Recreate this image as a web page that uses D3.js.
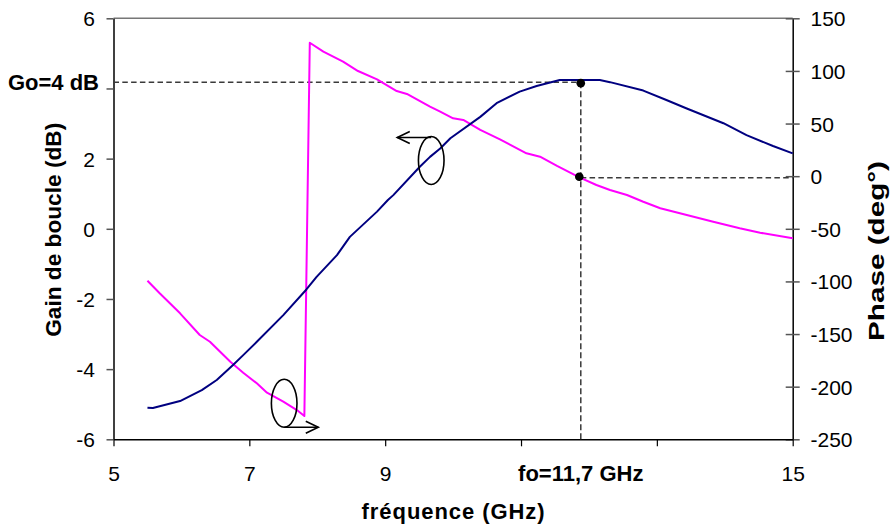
<!DOCTYPE html>
<html>
<head>
<meta charset="utf-8">
<script src="https://cdn.jsdelivr.net/npm/d3@7"></script>
<style>
  html, body { margin: 0; padding: 0; background: #fff; }
  svg { display: block; }
  text { font-family: "Liberation Sans", Arial, sans-serif; fill: #000; }
</style>
</head>
<body>
<svg id="chart" width="891" height="528"></svg>
<script>
// ---------- DATA ----------
const gainFreq = [5.50, 5.58, 5.98, 6.30, 6.52, 6.76, 6.91, 7.11, 7.50, 7.84, 7.99, 8.29, 8.48, 8.88, 9.04, 9.12, 9.51, 9.66, 9.81, 9.96, 10.40, 10.64, 10.98, 11.23, 11.57, 12.16, 12.31, 12.80, 13.14, 13.44, 13.98, 14.32, 14.71, 15.00];
const gainDb   = [-5.10, -5.11, -4.91, -4.60, -4.31, -3.88, -3.60, -3.22, -2.46, -1.73, -1.37, -0.75, -0.23, 0.49, 0.82, 0.96, 1.77, 2.05, 2.29, 2.58, 3.19, 3.58, 3.91, 4.07, 4.24, 4.24, 4.18, 3.94, 3.67, 3.43, 3.01, 2.67, 2.36, 2.15];

const phaseFreq = [5.50, 5.68, 5.98, 6.27, 6.42, 6.72, 6.91, 7.11, 7.26, 7.50, 7.70, 7.81, 7.89, 8.09, 8.38, 8.60, 8.88, 9.17, 9.32, 9.66, 9.81, 10.00, 10.15, 10.40, 10.69, 11.08, 11.28, 11.53, 11.86, 12.11, 12.31, 12.56, 12.80, 13.05, 13.44, 13.83, 14.22, 14.52, 15.00];
const phaseDeg  = [-99.3, -111.3, -130.3, -150.9, -157.3, -176.3, -186.7, -196.8, -205.7, -214.3, -222.2, -227.9, 126.8, 118.3, 108.8, 99.9, 92.0, 80.9, 78.1, 66.0, 61.3, 55.0, 53.4, 43.9, 35.0, 21.7, 18.5, 9.7, -1.1, -8.4, -13.1, -17.9, -24.3, -30.5, -36.9, -43.3, -49.5, -53.7, -59.0];

const xTicks = [5, 7, 9, 11, 13, 15];
const xTickLabels = ["5", "7", "9", "", "", "15"];
const gainTicks = [-6, -4, -2, 0, 2, 4, 6];
const gainTickLabels = ["-6", "-4", "-2", "0", "2", "", "6"];
const phaseTicks = [-250, -200, -150, -100, -50, 0, 50, 100, 150];
const phaseTickLabels = ["-250", "-200", "-150", "-100", "-50", "0", "50", "100", "150"];

// operating point
const foGHz = 11.88;
const goDb = 4.18;
const phaseAtFo = -1.5;
const foLabel = "fo=11,7 GHz";
const goLabel = "Go=4 dB";

// annotation ellipses (data units) : [freq, gain(dB)], arrow tip freq
const ellipseGain = [9.678, 1.946];
const arrowGainTipFreq = 9.178;
const ellipsePhase = [7.513, -4.972];
const arrowPhaseTipFreq = 8.015;

const xTitle = "fréquence (GHz)";
const yLeftTitle = "Gain de boucle (dB)";
const yRightTitle = "Phase (deg°)";

// ---------- LAYOUT ----------
const L = 113.5, R = 792.7, T = 18.3, B = 439.3;
const svg = d3.select("#chart");

const x = d3.scaleLinear().domain([5, 15]).range([L, R]);
const yG = d3.scaleLinear().domain([-6, 6]).range([B, T]);
const yP = d3.scaleLinear().domain([-250, 150]).range([B, T]);

// top frame line
svg.append("line").attr("x1", L).attr("x2", R).attr("y1", T).attr("y2", T)
  .attr("stroke", "#777").attr("stroke-width", 1.5);

// left axis
const gLeft = svg.append("g").attr("transform", `translate(${L},0)`)
  .call(d3.axisLeft(yG).tickValues(gainTicks).tickFormat((d, i) => gainTickLabels[i])
    .tickSizeInner(7).tickSizeOuter(0).tickPadding(11.5));
gLeft.select(".domain").attr("stroke", "#000").attr("stroke-width", 1.5);
gLeft.selectAll(".tick line").attr("stroke", "#555").attr("stroke-width", 1.5);
gLeft.selectAll(".tick text").attr("font-size", 21).attr("font-family", "Liberation Sans, Arial, sans-serif").attr("dy", "0.36em");

// right axis
const gRight = svg.append("g").attr("transform", `translate(${R},0)`)
  .call(d3.axisRight(yP).tickValues(phaseTicks).tickFormat((d, i) => phaseTickLabels[i])
    .tickSizeInner(7).tickSizeOuter(0).tickPadding(10.8));
gRight.select(".domain").attr("stroke", "#000").attr("stroke-width", 1.5);
gRight.selectAll(".tick line").attr("x1", -7).attr("stroke", "#555").attr("stroke-width", 1.5);
gRight.selectAll(".tick text").attr("font-size", 21).attr("font-family", "Liberation Sans, Arial, sans-serif").attr("dy", "0.36em");

// bottom axis
const gBottom = svg.append("g").attr("transform", `translate(0,${B})`)
  .call(d3.axisBottom(x).tickValues(xTicks).tickFormat((d, i) => xTickLabels[i])
    .tickSizeInner(7).tickSizeOuter(0));
gBottom.select(".domain").attr("stroke", "#000").attr("stroke-width", 1.5);
gBottom.selectAll(".tick line").attr("stroke", "#000").attr("stroke-width", 1.2);
gBottom.selectAll(".tick text").attr("font-size", 21).attr("font-family", "Liberation Sans, Arial, sans-serif")
  .attr("y", 41.7).attr("dy", 0);

// ---------- DASHED GUIDES ----------
const dash = { stroke: "#3a3a3a", w: 1.5, da: "5.5,3.3" };
svg.append("line").attr("x1", L).attr("x2", x(foGHz)).attr("y1", yG(goDb)).attr("y2", yG(goDb))
  .attr("stroke", dash.stroke).attr("stroke-width", dash.w).attr("stroke-dasharray", dash.da);
svg.append("line").attr("x1", x(foGHz)).attr("x2", x(foGHz)).attr("y1", yG(goDb)).attr("y2", B)
  .attr("stroke", dash.stroke).attr("stroke-width", dash.w).attr("stroke-dasharray", "6,3");
svg.append("line").attr("x1", x(foGHz)).attr("x2", R).attr("y1", yP(phaseAtFo)).attr("y2", yP(phaseAtFo))
  .attr("stroke", dash.stroke).attr("stroke-width", dash.w).attr("stroke-dasharray", dash.da);

// ---------- SERIES ----------
const gainLine = d3.line().x(d => x(d[0])).y(d => yG(d[1]));
const phaseLine = d3.line().x(d => x(d[0])).y(d => yP(d[1]));

svg.append("path").datum(d3.zip(phaseFreq, phaseDeg))
  .attr("d", phaseLine).attr("fill", "none").attr("stroke", "#FF00FF").attr("stroke-width", 2)
  .attr("stroke-linejoin", "round");
svg.append("path").datum(d3.zip(gainFreq, gainDb))
  .attr("d", gainLine).attr("fill", "none").attr("stroke", "#000080").attr("stroke-width", 2)
  .attr("stroke-linejoin", "round");

// operating-point markers
svg.append("circle").attr("cx", x(foGHz)).attr("cy", yG(goDb) + 1).attr("r", 4.3).attr("fill", "#000");
svg.append("circle").attr("cx", x(foGHz) - 1.5).attr("cy", yP(phaseAtFo) - 1).attr("r", 4.3).attr("fill", "#000");

// ---------- ANNOTATIONS (ellipses + arrows) ----------
function ellipseArrow(center, tipFreq, side, scaleY) {
  const cx = x(center[0]), cy = scaleY(center[1]);
  const rx = 12.8, ry = 24;
  svg.append("ellipse").attr("cx", cx).attr("cy", cy).attr("rx", rx).attr("ry", ry)
    .attr("fill", "none").attr("stroke", "#000").attr("stroke-width", 1.6);
  const ay = side === "top" ? cy - ry + 1 : cy + ry;
  const tx = x(tipFreq);
  const dir = tx < cx ? 1 : -1;
  svg.append("line").attr("x1", cx).attr("x2", tx).attr("y1", ay).attr("y2", ay)
    .attr("stroke", "#000").attr("stroke-width", 1.6);
  svg.append("path")
    .attr("d", `M${tx + dir * 12.5},${ay - 6}L${tx},${ay}L${tx + dir * 12.5},${ay + 6}`)
    .attr("fill", "none").attr("stroke", "#000").attr("stroke-width", 1.6);
}
ellipseArrow(ellipseGain, arrowGainTipFreq, "top", yG);
ellipseArrow(ellipsePhase, arrowPhaseTipFreq, "bottom", yG);

// ---------- TEXT LABELS ----------
svg.append("text").attr("x", x(foGHz)).attr("y", 480.5).attr("text-anchor", "middle")
  .attr("font-size", 22).attr("font-weight", "bold").text(foLabel);
svg.append("text").attr("x", 99).attr("y", yG(goDb) + 8.3).attr("text-anchor", "end")
  .attr("font-size", 22).attr("font-weight", "bold").text(goLabel);

// axis titles
svg.append("text").attr("x", (L + R) / 2).attr("y", 519).attr("text-anchor", "middle")
  .attr("font-size", 22).attr("font-weight", "bold")
  .attr("textLength", 183).attr("lengthAdjust", "spacing").text(xTitle);

svg.append("text").attr("transform", `translate(61,${(T + B) / 2 + 1}) rotate(-90)`)
  .attr("text-anchor", "middle").attr("font-size", 22).attr("font-weight", "bold")
  .attr("textLength", 214).attr("lengthAdjust", "spacingAndGlyphs").text(yLeftTitle);

svg.append("text").attr("transform", `translate(884,251) rotate(-90)`)
  .attr("text-anchor", "middle").attr("font-size", 22).attr("font-weight", "bold")
  .attr("textLength", 180).attr("lengthAdjust", "spacingAndGlyphs").text(yRightTitle);
</script>
</body>
</html>
